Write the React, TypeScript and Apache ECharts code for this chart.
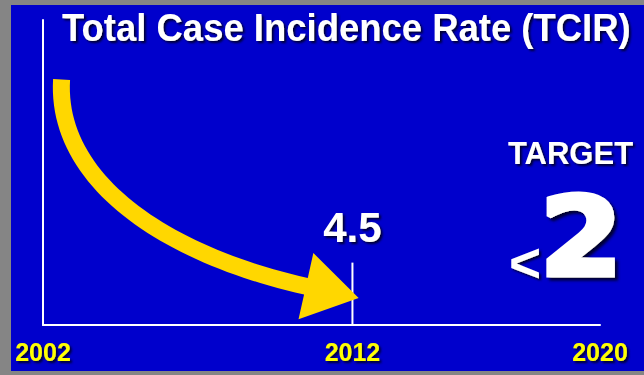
import React, { useEffect, useRef } from 'react';
import * as echarts from 'echarts';

const titleText = 'Total Case Incidence Rate (TCIR)';
const xTickLabels = [2002, 2012, 2020];
const xRange = [2002, 2020];
const yRange = [0, 22];
const currentYear = [2012];
const currentRate = [4.5];
const targetLabel = 'TARGET';
const targetRate = 2;
const arrowFrom = [2002.6, 17.7];
const arrowTo = [2012.2, 1.95];

const FONT = '"Liberation Sans", Arial, sans-serif';
const BLUE = '#0000CC';
const GOLD = '#FFD700';
const SHADOW = '#000033';

export default function App() {
  const ref = useRef<HTMLDivElement>(null);
  useEffect(() => {
    const chart = echarts.init(ref.current!, null, { renderer: 'svg' });
    const shadow = {
      textShadowColor: SHADOW,
      textShadowBlur: 2,
      textShadowOffsetX: 2,
      textShadowOffsetY: 2,
    };
    const option: any = {
      animation: false,
      backgroundColor: BLUE,
      grid: { left: 32, top: 15, right: 44, bottom: 46, containLabel: false },
      xAxis: {
        type: 'value',
        min: xRange[0],
        max: xRange[1],
        interval: 2,
        axisLine: { show: true, lineStyle: { color: '#ffffff', width: 2 } },
        axisTick: { show: false },
        splitLine: { show: false },
        axisLabel: {
          show: true,
          margin: 14,
          color: '#FFFF00',
          fontFamily: FONT,
          fontWeight: 'bold',
          fontSize: 25,
          ...shadow,
          formatter: (v: number) => (xTickLabels.includes(v) ? String(v) : ''),
        },
      },
      yAxis: {
        type: 'value',
        min: yRange[0],
        max: yRange[1],
        axisLine: { show: true, lineStyle: { color: '#ffffff', width: 2 } },
        axisTick: { show: false },
        axisLabel: { show: false },
        splitLine: { show: false },
      },
      series: [
        {
          type: 'bar',
          data: currentYear.map((y, i) => [y, currentRate[i]]),
          barWidth: 2,
          itemStyle: { color: '#ffffff' },
          label: {
            show: true,
            position: 'top',
            distance: 14,
            color: '#ffffff',
            fontFamily: FONT,
            fontWeight: 'bold',
            fontSize: 42,
            lineHeight: 42,
            ...shadow,
            formatter: (p: any) => String(p.value[1]),
          },
          z: 3,
        },
        {
          type: 'custom',
          data: [[arrowFrom[0], arrowFrom[1], arrowTo[0], arrowTo[1]]],
          z: 4,
          renderItem: (params: any, api: any) => {
            const p0 = api.coord([api.value(0), api.value(1)]);
            const tip = api.coord([api.value(2), api.value(3)]);
            const dx = tip[0] - p0[0];
            const dy = tip[1] - p0[1];
            const ang = (12.6 * Math.PI) / 180;
            const dir = [Math.cos(ang), Math.sin(ang)];
            const headLen = 54;
            const headHalf = 34;
            const half = 8.5;
            const p3 = [tip[0] - headLen * dir[0], tip[1] - headLen * dir[1]];
            const p1 = [p0[0] - 0.02 * dx, p0[1] + 0.46 * dy];
            const p2 = [p3[0] - 0.49 * dx * dir[0], p3[1] - 0.49 * dx * dir[1]];
            const N = 48;
            const left: number[][] = [];
            const right: number[][] = [];
            for (let i = 0; i <= N; i++) {
              const t = i / N;
              const u = 1 - t;
              const bx = u * u * u * p0[0] + 3 * u * u * t * p1[0] + 3 * u * t * t * p2[0] + t * t * t * p3[0];
              const by = u * u * u * p0[1] + 3 * u * u * t * p1[1] + 3 * u * t * t * p2[1] + t * t * t * p3[1];
              const tx = 3 * u * u * (p1[0] - p0[0]) + 6 * u * t * (p2[0] - p1[0]) + 3 * t * t * (p3[0] - p2[0]);
              const ty = 3 * u * u * (p1[1] - p0[1]) + 6 * u * t * (p2[1] - p1[1]) + 3 * t * t * (p3[1] - p2[1]);
              const len = Math.hypot(tx, ty) || 1;
              const nx = -ty / len;
              const ny = tx / len;
              left.push([bx + half * nx, by + half * ny]);
              right.push([bx - half * nx, by - half * ny]);
            }
            const enx = -dir[1];
            const eny = dir[0];
            const points = [
              ...left,
              [p3[0] + headHalf * enx, p3[1] + headHalf * eny],
              tip,
              [p3[0] - headHalf * enx, p3[1] - headHalf * eny],
              ...right.reverse(),
            ];
            return {
              type: 'polygon',
              shape: { points },
              style: { fill: GOLD, stroke: null },
            };
          },
        },
      ],
      graphic: [
        {
          type: 'text',
          x: 51,
          y: 22.5,
          scaleX: 0.96,
          style: {
            text: titleText,
            fill: '#ffffff',
            font: `bold 38px ${FONT}`,
            align: 'left',
            verticalAlign: 'middle',
            ...shadow,
          },
        },
        {
          type: 'text',
          x: 559.5,
          y: 148.5,
          style: {
            text: targetLabel,
            fill: '#ffffff',
            font: `bold 31px ${FONT}`,
            align: 'center',
            verticalAlign: 'middle',
            ...shadow,
          },
        },
        {
          type: 'text',
          x: 514,
          y: 258,
          style: {
            text: '<',
            fill: '#ffffff',
            font: `bold 55px ${FONT}`,
            align: 'center',
            verticalAlign: 'middle',
            ...shadow,
          },
        },
        {
          type: 'text',
          x: 570,
          y: 232.5,
          scaleX: 1.1,
          style: {
            text: String(targetRate),
            fill: '#ffffff',
            stroke: '#ffffff',
            lineWidth: 5,
            font: `bold 108px "DejaVu Sans", ${FONT}`,
            align: 'center',
            verticalAlign: 'middle',
            textShadowColor: SHADOW,
            textShadowBlur: 3,
            textShadowOffsetX: 3,
            textShadowOffsetY: 3,
          },
        },
      ],
    };
    chart.setOption(option);
    return () => chart.dispose();
  }, []);
  return (
    <div
      style={{
        position: 'fixed',
        left: 0,
        top: 0,
        width: 644,
        height: 375,
        background: '#858585',
        overflow: 'hidden',
      }}
    >
      <div ref={ref} style={{ position: 'absolute', left: 11, top: 5, width: 633, height: 366 }} />
    </div>
  );
}
